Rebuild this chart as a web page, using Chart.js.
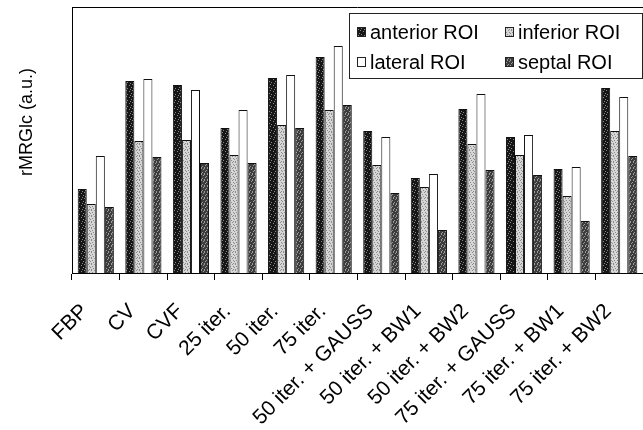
<!DOCTYPE html>
<html>
<head>
<meta charset="utf-8">
<script src="https://cdn.jsdelivr.net/npm/chart.js@4.4.0/dist/chart.umd.min.js"></script>
<style>
  html, body { margin: 0; padding: 0; background: #fff; }
  #wrap { width: 643px; height: 430px; }
</style>
</head>
<body>
<div id="wrap"><canvas id="myChart" width="643" height="430"></canvas></div>
<script>
const categorias = ['FBP', 'CV', 'CVF', '25 iter.', '50 iter.', '75 iter.',
  '50 iter. + GAUSS', '50 iter. + BW1', '50 iter. + BW2',
  '75 iter. + GAUSS', '75 iter. + BW1', '75 iter. + BW2'];

const anterior = [84, 192, 188, 145, 195, 216, 142, 95, 164, 136, 104, 185];
const inferior = [69, 132, 133, 118, 148, 163, 108, 86, 129, 118, 77, 142];
const lateral  = [117, 194, 183, 163, 198, 227, 136, 99, 179, 138, 106, 176];
const septal   = [66, 116, 110, 110, 145, 168, 80, 43, 103, 98, 52, 117];

const serieNombres = ['anterior ROI', 'inferior ROI', 'lateral ROI', 'septal ROI'];
const tituloY = 'rMRGlc (a.u.)';

const FONT = '"Liberation Sans", Arial, sans-serif';

// small stipple fill, like the scanned print
function trama(base, punto, puntos) {
  const c = document.createElement('canvas');
  c.width = 6; c.height = 6;
  const g = c.getContext('2d');
  g.fillStyle = base;
  g.fillRect(0, 0, 6, 6);
  g.fillStyle = punto;
  puntos.forEach(p => g.fillRect(p[0], p[1], 1, 1));
  return g.createPattern(c, 'repeat');
}

const serieColores = [
  trama('#161616', '#8a8a8a', [[0, 0], [3, 1], [5, 3], [1, 4], [4, 5]]),
  trama('#d6d6d6', '#8a8a8a', [[1, 0], [4, 0], [2, 2], [5, 2], [0, 3], [3, 4], [1, 5], [5, 5]]),
  '#ffffff',
  trama('#3c3c3c', '#9c9c9c', [[0, 0], [3, 0], [2, 2], [5, 1], [1, 3], [4, 4], [0, 5], [3, 5]])
];

// legend drawn inside the plot, two columns like the original
const legendaInterna = {
  id: 'legendaInterna',
  afterDraw(chart) {
    const ctx = chart.ctx;
    const box = { x: 349.5, y: 13.5, w: 293, h: 65 };
    ctx.save();
    ctx.fillStyle = '#fff';
    ctx.fillRect(box.x, box.y, box.w, box.h);
    ctx.strokeStyle = '#222';
    ctx.lineWidth = 1;
    ctx.strokeRect(box.x, box.y, box.w, box.h);

    const cols = [357, 505];
    const rows = [32, 62];
    ctx.font = '20px ' + FONT;
    ctx.textBaseline = 'middle';
    ctx.textAlign = 'left';
    chart.data.datasets.forEach((ds, k) => {
      const x = cols[k % 2];
      const y = rows[Math.floor(k / 2)];
      ctx.fillStyle = ds.backgroundColor;
      ctx.fillRect(x, y - 5, 9, 10);
      ctx.strokeStyle = '#222';
      ctx.strokeRect(x + 0.5, y - 4.5, 8, 9);
      ctx.fillStyle = '#000';
      ctx.fillText(ds.label, x + 13, y + 1);
    });
    ctx.restore();
  }
};

// top frame line and the y-axis title (sits a bit above the middle in the original)
const marcoYTitulo = {
  id: 'marcoYTitulo',
  afterDraw(chart) {
    const { ctx, chartArea } = chart;
    ctx.save();
    ctx.strokeStyle = '#000';
    ctx.lineWidth = 1;
    ctx.beginPath();
    ctx.moveTo(chartArea.left, chartArea.top + 0.5);
    ctx.lineTo(chartArea.right, chartArea.top + 0.5);
    ctx.stroke();

    ctx.translate(27, 122);
    ctx.rotate(-Math.PI / 2);
    ctx.font = '18px ' + FONT;
    ctx.fillStyle = '#000';
    ctx.textAlign = 'center';
    ctx.textBaseline = 'middle';
    ctx.fillText(tituloY, 0, 0);
    ctx.restore();
  }
};

const series = [anterior, inferior, lateral, septal];

new Chart(document.getElementById('myChart'), {
  type: 'bar',
  data: {
    labels: categorias,
    datasets: series.map((d, i) => ({
      label: serieNombres[i],
      data: d,
      backgroundColor: serieColores[i],
      borderColor: '#111',
      borderWidth: 1,
      borderSkipped: 'bottom',
      categoryPercentage: 0.76,
      barPercentage: 1.0
    }))
  },
  options: {
    responsive: false,
    animation: false,
    layout: { padding: { top: 7, right: 0, left: 0, bottom: 0 } },
    plugins: {
      legend: { display: false },
      tooltip: { enabled: false }
    },
    scales: {
      x: {
        grid: {
          display: true,
          drawOnChartArea: false,
          drawTicks: true,
          tickLength: 7,
          color: '#000'
        },
        border: { display: true, color: '#000', width: 1 },
        ticks: {
          autoSkip: false,
          minRotation: 45,
          maxRotation: 45,
          padding: 19,
          labelOffset: -11,
          color: '#000',
          font: { family: FONT, size: 21 }
        },
        afterFit(scale) {
          scale.height = 157;
          scale.paddingLeft = 0;
          scale.paddingRight = 0;
        }
      },
      y: {
        min: 0,
        max: 266,
        grid: { display: false },
        border: { display: true, color: '#000', width: 1 },
        ticks: { display: false },
        afterFit(scale) { scale.width = 72; }
      }
    }
  },
  plugins: [legendaInterna, marcoYTitulo]
});
</script>
</body>
</html>
